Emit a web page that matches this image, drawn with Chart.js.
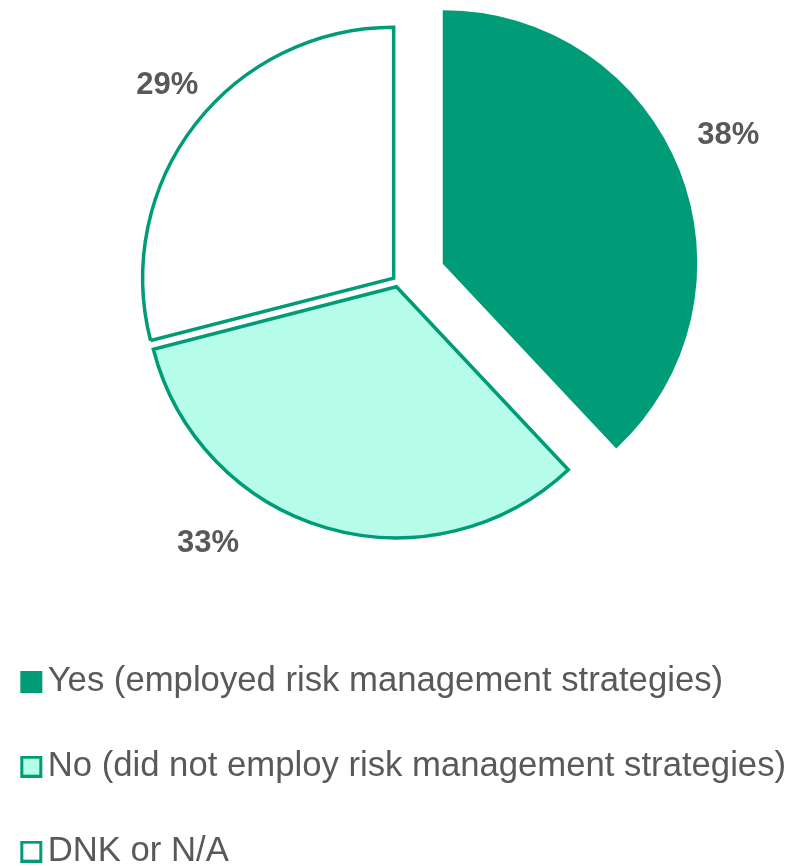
<!DOCTYPE html>
<html>
<head>
<meta charset="utf-8">
<script src="https://cdn.jsdelivr.net/npm/chart.js@4"></script>
<style>
  html, body { margin: 0; padding: 0; background: #ffffff; }
  body { width: 804px; height: 866px; overflow: hidden; position: relative; }
  #wrap { position: absolute; left: -22px; top: -51px; width: 840px; height: 930px; }
</style>
</head>
<body>
<div id="wrap"><canvas id="pie" width="840" height="930"></canvas></div>
<script>
// Survey answers and their shares (percent)
const categories = [
  'Yes (employed risk management strategies)',
  'No (did not employ risk management strategies)',
  'DNK or N/A'
];
const shares = [38, 33, 29];

// Palette
const GREEN = '#009B77';
const MINT = '#B5FDE9';
const WHITE = '#FFFFFF';
const TEXT = '#595959';
const fills = [GREEN, MINT, WHITE];

// Slice explosion (px, along each slice's bisector) and percentage label placement
const explodeBy = [50, 5.5, 5.5];
const labelRadiusFactor = [1.438, 1.29, 1.207];
const labelAngleShiftDeg = [-2.2, 19.7, 2.6];

// Legend swatch images: square marker placed inside a wider transparent canvas
function makeSwatch(fill, bordered) {
  const c = document.createElement('canvas');
  c.width = 40; c.height = 22;
  const g = c.getContext('2d');
  g.fillStyle = fill;
  g.fillRect(11, 0, 22, 22);
  if (bordered) {
    g.strokeStyle = GREEN;
    g.lineWidth = 3;
    g.strokeRect(12.5, 1.5, 19, 19);
  }
  return c;
}
const swatches = [makeSwatch(GREEN, false), makeSwatch(MINT, true), makeSwatch(WHITE, true)];

// Pull slices out from the centre without enlarging their radius
const explodeSlices = {
  id: 'explodeSlices',
  afterDatasetUpdate(chart, args) {
    const meta = chart.getDatasetMeta(args.index);
    meta.data.forEach((arc, i) => {
      const mid = (arc.startAngle + arc.endAngle) / 2;
      arc.x += Math.cos(mid) * explodeBy[i];
      arc.y += Math.sin(mid) * explodeBy[i];
    });
  }
};

// Percentage labels drawn outside each slice
const pctLabels = {
  id: 'pctLabels',
  afterDatasetsDraw(chart) {
    const ctx = chart.ctx;
    const area = chart.chartArea;
    const cx = (area.left + area.right) / 2;
    const cy = (area.top + area.bottom) / 2;
    const meta = chart.getDatasetMeta(0);
    ctx.save();
    ctx.font = 'bold 31px "Liberation Sans", Arial, sans-serif';
    ctx.fillStyle = TEXT;
    ctx.textAlign = 'center';
    ctx.textBaseline = 'middle';
    meta.data.forEach((arc, i) => {
      const mid = (arc.startAngle + arc.endAngle) / 2 + labelAngleShiftDeg[i] * Math.PI / 180;
      const r = arc.outerRadius * labelRadiusFactor[i];
      ctx.fillText(shares[i] + '%', cx + Math.cos(mid) * r, cy + Math.sin(mid) * r);
    });
    ctx.restore();
  }
};

new Chart(document.getElementById('pie'), {
  type: 'pie',
  data: {
    labels: categories,
    datasets: [{
      data: shares,
      backgroundColor: fills,
      borderColor: GREEN,
      borderWidth: 3.5,
      borderJoinStyle: 'miter'
    }]
  },
  options: {
    responsive: false,
    devicePixelRatio: 1,
    animation: false,
    radius: 251,
    layout: { padding: 0 },
    plugins: {
      tooltip: { enabled: false },
      legend: {
        position: 'bottom',
        align: 'start',
        labels: {
          usePointStyle: true,
          pointStyleWidth: 2,
          padding: 50.3,
          color: TEXT,
          font: { family: '"Liberation Sans", Arial, sans-serif', size: 34.7 },
          generateLabels(chart) {
            return categories.map((text, i) => ({
              text,
              fillStyle: fills[i],
              strokeStyle: GREEN,
              lineWidth: 0,
              pointStyle: swatches[i],
              fontColor: TEXT,
              hidden: false,
              index: i
            }));
          }
        }
      }
    }
  },
  plugins: [explodeSlices, pctLabels]
});
</script>
</body>
</html>
